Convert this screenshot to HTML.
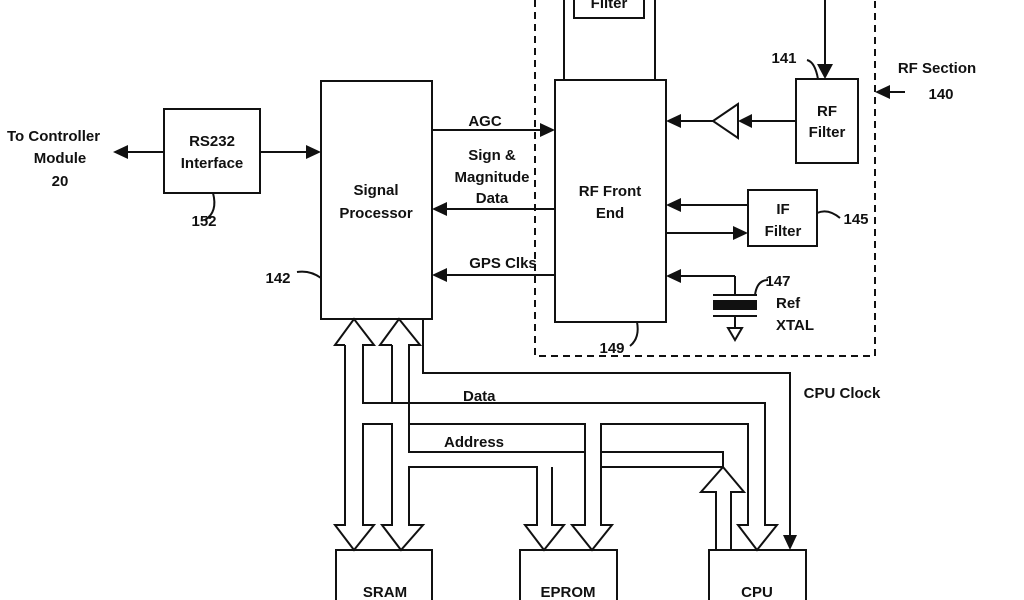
<!DOCTYPE html>
<html><head><meta charset="utf-8"><style>
html,body{margin:0;padding:0;background:#fff;width:1024px;height:600px;overflow:hidden}
svg{display:block}
text{font-family:"Liberation Sans",Arial,sans-serif;font-weight:bold;font-size:15px;fill:#111}
</style></head><body>
<svg width="1024" height="600" viewBox="0 0 1024 600" xmlns="http://www.w3.org/2000/svg">
<g stroke="#111" stroke-width="2" fill="none">
<!-- dashed RF section -->
<path d="M535 0 V356 H875 V0" stroke-dasharray="7,5"/>
<!-- boxes -->
<rect x="164" y="109" width="96" height="84"/>
<rect x="321" y="81" width="111" height="238"/>
<rect x="555" y="80" width="111" height="242"/>
<rect x="574" y="-5" width="70" height="23"/>
<path d="M564 0 V80 M655 0 V80"/>
<rect x="796" y="79" width="62" height="84"/>
<rect x="748" y="190" width="69" height="56"/>
<rect x="336" y="550" width="96" height="60"/>
<rect x="520" y="550" width="97" height="60"/>
<rect x="709" y="550" width="97" height="60"/>
<!-- simple lines -->
<path d="M124 152 H164 M260 152 H310 M432 130 H545 M555 209 H444 M555 275 H444"/>
<path d="M825 0 V67 M796 121 H750 M713 121 H678 M748 205 H678 M666 233 H738 M735 276 H678 M735 276 V295 M905 92 H887"/>
<!-- amplifier -->
<path d="M738 104 L713 121 L738 138 Z"/>
<!-- xtal -->
<path d="M713 295 H757 M713 316 H757 M735 316 V328"/>
<path d="M728 328 L742 328 L735 340 Z"/>
<!-- callout curves -->
<path d="M213 193 Q218 212 205 220"/>
<path d="M297 272 Q310 270 321 278"/>
<path d="M807 60 Q815 62 818 79"/>
<path d="M817 213 Q828 208 840 218"/>
<path d="M768 280 Q757 280 755 295"/>
<path d="M637 322 Q640 338 630 346"/>
<!-- CPU clock -->
<path d="M423 319 V373 H790 V538"/>
<!-- bus arrow outlines -->
<path d="M345 345 H335 L354 319 L374 345 H363 V403 H765 V525 H777 L757 550 L738 525 H748 V424 H601 V525 H612 L592 550 L572 525 H585 V424 H409 V452 H585 M601 452 H723 V467 M723 467 L744 492 H731 V550 M716 550 V492 H701 L723 467 M601 467 H723"/>
<path d="M345 345 V525 H335 L354 550 L374 525 H363 V424 H392 V525 H382 L401 550 L423 525 H409 V467 H537 V525 H525 L544 550 L564 525 H552 V467"/>
<path d="M392 345 H380 L399 319 L420 345 H409 V424 M392 345 V403"/>
</g>
<!-- filled arrowheads -->
<g fill="#111">
<path d="M113 152 L128 145 L128 159 Z"/>
<path d="M321 152 L306 145 L306 159 Z"/>
<path d="M555 130 L540 123 L540 137 Z"/>
<path d="M432 209 L447 202 L447 216 Z"/>
<path d="M432 275 L447 268 L447 282 Z"/>
<path d="M825 79 L817 64 L833 64 Z"/>
<path d="M738 121 L752 114 L752 128 Z"/>
<path d="M666 121 L681 114 L681 128 Z"/>
<path d="M666 205 L681 198 L681 212 Z"/>
<path d="M748 233 L733 226 L733 240 Z"/>
<path d="M666 276 L681 269 L681 283 Z"/>
<path d="M875 92 L890 85 L890 99 Z"/>
<path d="M790 550 L783 535 L797 535 Z"/>
<rect x="713" y="300" width="44" height="10"/>
</g>
<text x="7" y="141">To Controller</text>
<text x="60" y="163" text-anchor="middle">Module</text>
<text x="60" y="186" text-anchor="middle">20</text>
<text x="212" y="146" text-anchor="middle">RS232</text>
<text x="212" y="168" text-anchor="middle">Interface</text>
<text x="204" y="226" text-anchor="middle">152</text>
<text x="376" y="195" text-anchor="middle">Signal</text>
<text x="376" y="218" text-anchor="middle">Processor</text>
<text x="278" y="283" text-anchor="middle">142</text>
<text x="485" y="126" text-anchor="middle">AGC</text>
<text x="492" y="160" text-anchor="middle">Sign &amp;</text>
<text x="492" y="182" text-anchor="middle">Magnitude</text>
<text x="492" y="203" text-anchor="middle">Data</text>
<text x="503" y="268" text-anchor="middle">GPS Clks</text>
<text x="609" y="8" text-anchor="middle">Filter</text>
<text x="610" y="196" text-anchor="middle">RF Front</text>
<text x="610" y="218" text-anchor="middle">End</text>
<text x="612" y="353" text-anchor="middle">149</text>
<text x="784" y="63" text-anchor="middle">141</text>
<text x="827" y="116" text-anchor="middle">RF</text>
<text x="827" y="137" text-anchor="middle">Filter</text>
<text x="783" y="214" text-anchor="middle">IF</text>
<text x="783" y="236" text-anchor="middle">Filter</text>
<text x="856" y="224" text-anchor="middle">145</text>
<text x="778" y="286" text-anchor="middle">147</text>
<text x="776" y="308">Ref</text>
<text x="776" y="330">XTAL</text>
<text x="937" y="73" text-anchor="middle">RF Section</text>
<text x="941" y="99" text-anchor="middle">140</text>
<text x="842" y="398" text-anchor="middle">CPU Clock</text>
<text x="463" y="401">Data</text>
<text x="444" y="447">Address</text>
<text x="385" y="597" text-anchor="middle">SRAM</text>
<text x="568" y="597" text-anchor="middle">EPROM</text>
<text x="757" y="597" text-anchor="middle">CPU</text>
</svg>
</body></html>
